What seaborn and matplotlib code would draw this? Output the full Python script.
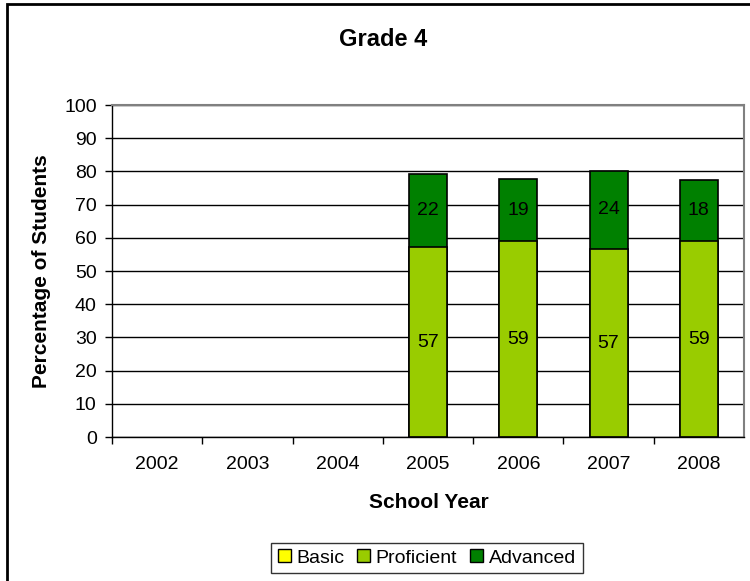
import numpy as np
import pandas as pd
import matplotlib.pyplot as plt
import matplotlib.patches as mpatches
import seaborn as sns

years = ["2002", "2003", "2004", "2005", "2006", "2007", "2008"]
basic = [np.nan, np.nan, np.nan, 0, 0, 0, 0]
proficient = [np.nan, np.nan, np.nan, 57.2, 59.0, 56.6, 59.0]
advanced = [np.nan, np.nan, np.nan, 22.0, 18.6, 23.6, 18.4]

color_basic = "#FFFF00"
color_prof = "#99CC00"
color_adv = "#008000"

sns.set_style("white")
plt.rcParams["font.family"] = ["Liberation Sans", "DejaVu Sans"]
plt.rcParams["text.color"] = "black"
plt.rcParams["xtick.color"] = "black"
plt.rcParams["ytick.color"] = "black"
plt.rcParams["axes.labelcolor"] = "black"

df = pd.DataFrame({"year": years, "basic": basic,
                   "proficient": proficient, "advanced": advanced})
df["top"] = df["proficient"] + df["advanced"]

fig = plt.figure(figsize=(7.5, 5.81), dpi=100)
ax = fig.add_axes([112 / 750, 1 - 437 / 581, 632 / 750, 332 / 581])

# stacked: draw totals first, then proficient over it
sns.barplot(data=df, x="year", y="top", order=years, color=color_adv,
            saturation=1, width=0.42, edgecolor="black", linewidth=1.2, ax=ax)
sns.barplot(data=df, x="year", y="proficient", order=years, color=color_prof,
            saturation=1, width=0.42, edgecolor="black", linewidth=1.2, ax=ax)

present = df.dropna(subset=["proficient"])
ax.bar_label(ax.containers[1], labels=[f"{v:.0f}" for v in present["proficient"]],
             label_type="center", fontsize=14)
for bar, p, a in zip(ax.containers[0], present["proficient"], present["advanced"]):
    ax.text(bar.get_x() + bar.get_width() / 2, p + a / 2, f"{a:.0f}",
            ha="center", va="center", fontsize=14)

ax.set_ylim(0, 100)
ax.set_xlim(-0.5, len(years) - 0.5)
ax.set_yticks(np.arange(0, 101, 10))
ax.yaxis.grid(True, color="black", linewidth=1.0)
ax.set_axisbelow(True)
ax.set_xticks(np.arange(len(years)))
ax.set_xticklabels(years)
ax.set_xticks(np.arange(len(years)) - 0.5, minor=True)
ax.tick_params(axis="x", which="major", length=0, pad=14, labelsize=14)
ax.tick_params(axis="x", which="minor", length=5, width=1, color="black",
               direction="out", bottom=True)
ax.tick_params(axis="y", length=5, width=1, color="black", direction="out",
               pad=6, labelsize=14, left=True)

for s in ["left", "bottom"]:
    ax.spines[s].set_color("black")
    ax.spines[s].set_linewidth(1.0)
for s in ["top", "right"]:
    ax.spines[s].set_color("#808080")
    ax.spines[s].set_linewidth(1.5)

ax.set_xlabel("")
ax.set_ylabel("")
fig.text(383 / 750, 1 - 40 / 581, "Grade 4", ha="center", va="center",
         fontsize=17, fontweight="bold")
fig.text(42 / 750, 1 - 271 / 581, "Percentage of Students", rotation=90,
         ha="center", va="center", fontsize=15, fontweight="bold")
fig.text(429 / 750, 1 - 503 / 581, "School Year", ha="center", va="center",
         fontsize=15, fontweight="bold")

handles = [mpatches.Patch(facecolor=c, edgecolor="black", linewidth=1.0, label=l)
           for c, l in [(color_basic, "Basic"), (color_prof, "Proficient"),
                        (color_adv, "Advanced")]]
leg = fig.legend(handles=handles, loc="center", bbox_to_anchor=(427 / 750, 1 - 558 / 581),
                 ncol=3, fontsize=14, frameon=True, fancybox=False, handlelength=0.65,
                 handleheight=0.65, handletextpad=0.3, columnspacing=0.65,
                 borderpad=0.35, edgecolor="black")
leg.get_frame().set_linewidth(1.0)

# outer chart border (top and left visible)
fig.patches.append(mpatches.Rectangle((7 / 750, -0.05), 1.0, 1 - 4 / 581 + 0.05,
                                      transform=fig.transFigure, fill=False,
                                      edgecolor="black", linewidth=2))

fig.savefig("out.png", dpi=100)
